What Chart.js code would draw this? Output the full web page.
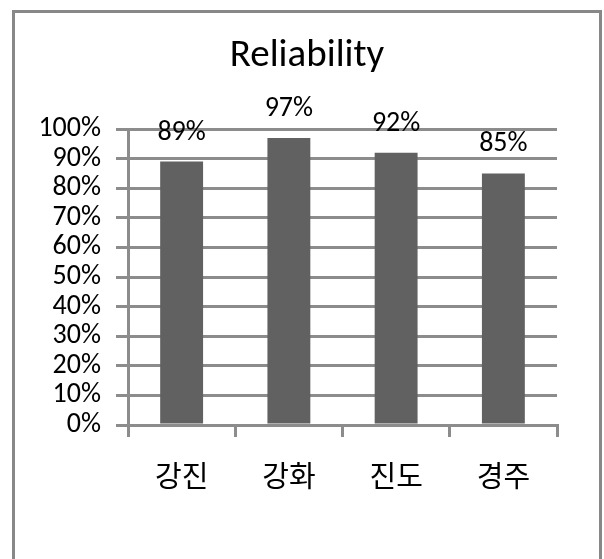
<!DOCTYPE html>
<html>
<head>
<meta charset="utf-8">
<script src="https://cdn.jsdelivr.net/npm/chart.js@4"></script>
<style>
  body { margin: 0; background: #fff; }
  #wrap { position: absolute; left: 0; top: 0; width: 604px; height: 559px; overflow: hidden; }
  #frame { position: absolute; left: 12px; top: 10px; width: 584px; height: 600px; border: 3px solid #888; pointer-events: none; }
  canvas { position: absolute; left: 0; top: 0; }
</style>
</head>
<body>
<div id="wrap">
  <canvas id="myChart" width="604" height="559"></canvas>
  <div id="frame"></div>
</div>
<script>
const categories = ["강진", "강화", "진도", "경주"];
const reliability = [89, 97, 92, 85];
const yTicks = [0, 10, 20, 30, 40, 50, 60, 70, 80, 90, 100];

const latin = "Carlito, 'Open Sans', sans-serif";
const korean = "'Noto Sans CJK KR', sans-serif";
const gridGray = "#8c8c8c";

// value labels above each bar
const barLabels = {
  id: "barLabels",
  afterDatasetsDraw(chart) {
    const ctx = chart.ctx;
    const meta = chart.getDatasetMeta(0);
    ctx.save();
    ctx.font = "28px " + latin;
    ctx.fillStyle = "#000";
    ctx.textAlign = "center";
    ctx.textBaseline = "alphabetic";
    meta.data.forEach((bar, i) => {
      ctx.fillText(reliability[i] + "%", bar.x, bar.y - 22);
    });
    ctx.restore();
  }
};

const ctx = document.querySelector("#myChart").getContext("2d");
const chart = new Chart(ctx, {
  type: "bar",
  data: {
    labels: categories,
    datasets: [{
      label: "Reliability",
      data: reliability,
      backgroundColor: "#616161",
      barPercentage: 0.4,
      categoryPercentage: 1
    }]
  },
  options: {
    responsive: false,
    animation: false,
    layout: { padding: { left: 10, right: 0, top: 0, bottom: 0 } },
    plugins: {
      legend: { display: false },
      tooltip: { enabled: false },
      title: {
        display: true,
        text: "Reliability",
        color: "#000",
        font: { family: latin, size: 39, weight: "normal", lineHeight: 1.2 },
        padding: { top: 33, bottom: 49.2 }
      }
    },
    scales: {
      x: {
        grid: { display: true, drawOnChartArea: false, drawTicks: true, tickLength: 12, color: gridGray, lineWidth: 3 },
        border: { display: true, color: gridGray, width: 3 },
        ticks: { color: "#000", font: { family: korean, size: 29 }, padding: 22 },
        afterFit: (scale) => { scale.height = 134; }
      },
      y: {
        min: 0,
        max: 100,
        afterBuildTicks: (scale) => { scale.ticks = yTicks.map(v => ({ value: v })); },
        grid: { color: gridGray, lineWidth: 3, tickLength: 12 },
        border: { display: true, color: gridGray, width: 3 },
        ticks: { color: "#000", font: { family: latin, size: 28 }, padding: 15, autoSkip: false, callback: (v) => v + "%" },
        afterFit: (scale) => { scale.width = 118; }
      },
      // empty right-hand spacer so the plot ends where the reference does
      spacer: {
        position: "right",
        display: true,
        grid: { display: false },
        border: { display: false },
        ticks: { display: false },
        afterFit: (scale) => { scale.width = 47; }
      }
    }
  },
  plugins: [barLabels]
});
</script>
</body>
</html>
